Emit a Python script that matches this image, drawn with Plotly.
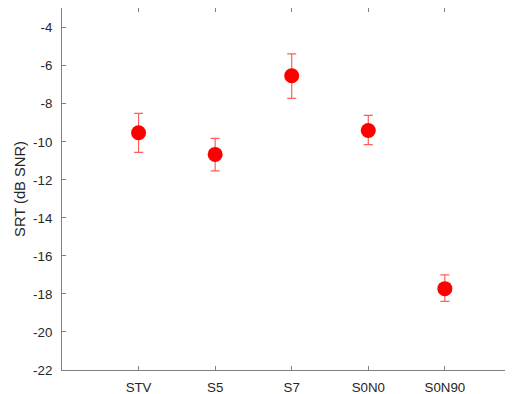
import plotly.graph_objects as go

categories = ["STV", "S5", "S7", "S0N0", "S0N90"]
positions = [1, 2, 3, 4, 5]
srt_mean = [-9.52, -10.66, -6.52, -9.40, -17.72]
err_upper = [-8.50, -9.82, -5.37, -8.61, -17.00]
err_lower = [-10.55, -11.53, -7.71, -10.15, -18.39]
y_ticks = [-22, -20, -18, -16, -14, -12, -10, -8, -6, -4]
y_tick_labels = ["-22", "-20", "-18", "-16", "-14", "-12", "-10", "-8", "-6", "-4"]

plus = [u - m for u, m in zip(err_upper, srt_mean)]
minus = [m - l for m, l in zip(srt_mean, err_lower)]

fig = go.Figure()
fig.add_trace(go.Scatter(
    x=positions, y=srt_mean, mode="markers",
    marker=dict(size=15, color="#ff0000", line=dict(width=0)),
    error_y=dict(type="data", symmetric=False, array=plus, arrayminus=minus,
                 color="rgba(255,40,40,0.75)", thickness=1.2, width=4.5),
    showlegend=False,
))

axis_color = "#808080"
font = dict(family="Liberation Sans, Arial, sans-serif", size=13.3, color="#262626")
title_font = dict(family="Liberation Sans, Arial, sans-serif", size=14.7, color="#262626")

# page body has an 8px default margin, so the figure is sized/offset to compensate
fig.update_layout(
    width=505, height=386,
    margin=dict(l=54, r=0, t=0, b=24),
    plot_bgcolor="white", paper_bgcolor="white",
    font=font,
    xaxis=dict(range=[0, 5.89], tickvals=positions, ticktext=categories,
               automargin=False,
               showgrid=False, zeroline=False, showline=True, linecolor=axis_color,
               linewidth=1, mirror="ticks", ticks="inside", ticklen=4,
               tickcolor=axis_color, ticklabelstandoff=5),
    yaxis=dict(range=[-22, -2.96], tickvals=y_ticks, ticktext=y_tick_labels,
               automargin=False,
               showgrid=False, zeroline=False, showline=True, linecolor=axis_color,
               linewidth=1, ticks="inside", ticklen=4, tickcolor=axis_color,
               ticklabelstandoff=6,
               title=dict(text="SRT (dB SNR)", font=title_font, standoff=3)),
)

fig.write_html("out.html")
